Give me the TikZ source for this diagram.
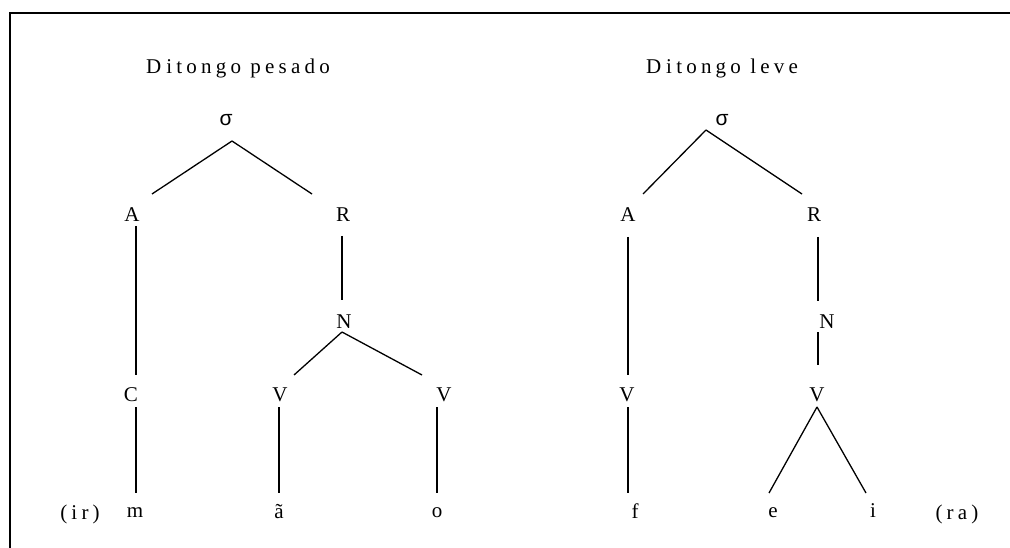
\documentclass[tikz,border=0pt]{standalone}
\usepackage{fontspec}
\setmainfont{Liberation Serif}
\newfontfamily\sigmafont{Liberation Sans}
\usetikzlibrary{calc}

\tikzset{
  seg/.style={font=\fontsize{21}{25}\selectfont, inner sep=0pt},
  spaced/.style={font={\fontsize{21}{25}\selectfont\addfontfeature{LetterSpace=20}}, inner sep=0pt},
  branch/.style={line width=1.3pt},
}

\begin{document}
\begin{tikzpicture}[x=1pt,y=-1pt]
\useasboundingbox (0,0) rectangle (1010,548);
\draw[line width=2pt] (1010,13) -- (9.5,13) -- (9.5,548);

\node[spaced] (t1) at (238,68) {D\kern5pt itongo pesado};
\node[seg] (s1) at (226,120) {\sigmafont σ};
\node[seg] (a1) at (132,215) {A};
\node[seg] (r1) at (343,215) {R};
\node[seg] (n1) at (344,322) {N};
\node[seg] (c1) at (131,395) {C};
\node[seg] (v1) at (280,395) {V};
\node[seg] (v2) at (444,395) {V};
\node[spaced] (ir) at (80,514) {(ir)};
\node[seg] (m) at (135,513) {m};
\node[seg] (atil) at (279,512) {ã};
\node[seg] (o) at (437,513) {o};

\node[spaced] (t2) at (722,68) {D\kern5pt itongo leve};
\node[seg] (s2) at (722,120) {\sigmafont σ};
\node[seg] (a2) at (628,215) {A};
\node[seg] (r2) at (814,215) {R};
\node[seg] (n2) at (827,322) {N};
\node[seg] (v3) at (627,395) {V};
\node[seg] (v4) at (817,395) {V};
\node[seg] (f) at (635,511) {f};
\node[seg] (e) at (773,513) {e};
\node[seg] (i) at (873,511) {i};
\node[spaced] (ra) at (957,514) {(ra)};

\draw[branch] ($(s1)+(6,21)$) -- ($(a1)+(20,-21)$);
\draw[branch] ($(s1)+(6,21)$) -- ($(r1)+(-31,-21)$);
\draw[branch] ($(a1)+(4,11)$) -- ($(c1)+(5,-20)$);
\draw[branch] ($(r1)+(-1,21)$) -- ($(n1)+(-2,-22)$);
\draw[branch] ($(n1)+(-2,10)$) -- ($(v1)+(14,-20)$);
\draw[branch] ($(n1)+(-2,10)$) -- ($(v2)+(-22,-20)$);
\draw[branch] ($(c1)+(5,12)$) -- ($(m)+(1,-20)$);
\draw[branch] ($(v1)+(-1,12)$) -- ($(atil)+(0,-19)$);
\draw[branch] ($(v2)+(-7,12)$) -- ($(o)+(0,-20)$);

\draw[branch] ($(s2)+(-16,10)$) -- ($(a2)+(15,-21)$);
\draw[branch] ($(s2)+(-16,10)$) -- ($(r2)+(-12,-21)$);
\draw[branch] ($(a2)+(0,22)$) -- ($(v3)+(1,-20)$);
\draw[branch] ($(r2)+(4,22)$) -- ($(n2)+(-9,-21)$);
\draw[branch] ($(n2)+(-9,10)$) -- ($(v4)+(1,-30)$);
\draw[branch] ($(v3)+(1,12)$) -- ($(f)+(-7,-18)$);
\draw[branch] ($(v4)+(0,12)$) -- ($(e)+(-4,-20)$);
\draw[branch] ($(v4)+(0,12)$) -- ($(i)+(-7,-18)$);
\end{tikzpicture}
\end{document}
